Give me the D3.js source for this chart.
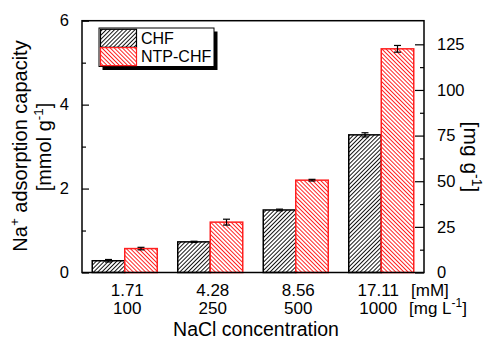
<!DOCTYPE html>
<html><head><meta charset="utf-8">
<script src="https://cdn.jsdelivr.net/npm/d3@7"></script>
<style>body{margin:0;background:#fff}svg{font-family:"Liberation Sans",Arial,sans-serif}</style>
</head><body><svg id="c" width="484" height="338"></svg>
<script>
const categories = ["1.71","4.28","8.56","17.11"];
const categories2 = ["100","250","500","1000"];
const chf = [0.28, 0.73, 1.49, 3.28];
const chfErr = [0.03, 0.015, 0.02, 0.05];
const ntp = [0.57, 1.20, 2.20, 5.33];
const ntpErr = [0.03, 0.07, 0.02, 0.08];
const leftTicks = [0,2,4,6];
const rightTicks = [0,25,50,75,100,125];
const seriesNames = ["CHF","NTP-CHF"];

const svg = d3.select("#c");
const L=82, R=424, T=20.7, B=272.5;
const x = d3.scaleBand().domain(categories).range([L,R]).padding(0);
const y = d3.scaleLinear().domain([0,6]).range([B,T]);
const y2 = d3.scaleLinear().domain([0,6*22.99]).range([B,T]);

const defs = svg.append("defs");
function pat(id, color, dir, sw){
  const w = 2.9;
  const p = defs.append("pattern").attr("id",id).attr("patternUnits","userSpaceOnUse")
    .attr("width",w).attr("height",w).attr("patternTransform","rotate("+(dir>0?45:-45)+")");
  p.append("rect").attr("width",w).attr("height",w).attr("fill","#fff");
  p.append("line").attr("x1",0).attr("y1",0).attr("x2",0).attr("y2",w).attr("stroke",color).attr("stroke-width",sw);
}
pat("hb","#000",1,1.8);
pat("hr","#ff0000",-1,1.7);

const bw = 32.5;
const series = [{v:chf,e:chfErr,fill:"url(#hb)",stroke:"#000",off:-bw},{v:ntp,e:ntpErr,fill:"url(#hr)",stroke:"#ff2020",off:0}];
series.forEach(s=>{
  const c = x.bandwidth()/2;
  svg.append("g").selectAll("rect").data(s.v).join("rect")
    .attr("x",(d,i)=>x(categories[i])+c+s.off)
    .attr("y",d=>y(d)).attr("width",bw).attr("height",d=>B-y(d))
    .attr("fill",s.fill).attr("stroke",s.stroke).attr("stroke-width",1.5);
  const g = svg.append("g").attr("stroke","#000").attr("stroke-width",1.2);
  s.v.forEach((d,i)=>{
    const cx = x(categories[i])+c+s.off+bw/2;
    g.append("line").attr("x1",cx).attr("x2",cx).attr("y1",y(d+s.e[i])).attr("y2",y(d-s.e[i]));
    g.append("line").attr("x1",cx-3.5).attr("x2",cx+3.5).attr("y1",y(d+s.e[i])).attr("y2",y(d+s.e[i]));
    g.append("line").attr("x1",cx-3.5).attr("x2",cx+3.5).attr("y1",y(d-s.e[i])).attr("y2",y(d-s.e[i]));
  });
});

// frame
svg.append("rect").attr("x",L).attr("y",T).attr("width",R-L).attr("height",B-T)
  .attr("fill","none").attr("stroke","#000").attr("stroke-width",1.5);

const FF = "Liberation Sans, Arial, sans-serif";
// left axis
const la = svg.append("g").attr("transform",`translate(${L},0)`)
  .call(d3.axisLeft(y).tickValues(leftTicks).tickFormat(d3.format("d")).tickSizeInner(-7).tickSizeOuter(0).tickPadding(13));
la.select(".domain").remove();
la.selectAll("text").attr("font-size",16.5).attr("fill","#000").attr("font-family",FF);
la.selectAll("line").attr("stroke-width",1.2);
svg.append("g").attr("transform",`translate(${L},0)`)
  .call(d3.axisLeft(y).tickValues([1,3,5]).tickSize(-4).tickFormat(""))
  .call(g=>g.select(".domain").remove()).selectAll("line").attr("stroke-width",1.2);

// right axis
const ra = svg.append("g").attr("transform",`translate(${R},0)`)
  .call(d3.axisRight(y2).tickValues(rightTicks).tickFormat(d3.format("d")).tickSizeInner(-9).tickSizeOuter(0).tickPadding(13));
ra.select(".domain").remove();
ra.selectAll("text").attr("font-size",16.5).attr("fill","#000").attr("font-family",FF);
ra.selectAll("line").attr("stroke-width",1.2);
svg.append("g").attr("transform",`translate(${R},0)`)
  .call(d3.axisRight(y2).tickValues([12.5,37.5,62.5,87.5,112.5]).tickSize(-4).tickFormat(""))
  .call(g=>g.select(".domain").remove()).selectAll("line").attr("stroke-width",1.2);

// x labels
const xl = svg.append("g").attr("font-size",17).attr("text-anchor","middle");
categories.forEach((c,i)=>{
  const cx = x(c)+x.bandwidth()/2 + (i<3?2.5:-3);
  xl.append("text").attr("x",cx).attr("y",296).text(c);
  xl.append("text").attr("x",cx).attr("y",313.5).text(categories2[i]);
});
const ul = svg.append("g").attr("font-size",17);
ul.append("text").attr("x",411).attr("y",296).text("[mM]");
const t2 = ul.append("text").attr("x",409).attr("y",313.5);
t2.append("tspan").text("[mg L");
t2.append("tspan").attr("dy",-7).attr("font-size",12).text("-1");
t2.append("tspan").attr("dy",7).text("]");
svg.append("text").attr("x",256).attr("y",335.5).attr("font-size",19.5).attr("text-anchor","middle").text("NaCl concentration");

// left title
const lt = svg.append("text").attr("transform","translate(27,146) rotate(-90)").attr("text-anchor","middle").attr("font-size",20);
lt.append("tspan").text("Na");
lt.append("tspan").attr("dy",-8).attr("font-size",13.5).text("+");
lt.append("tspan").attr("dy",8).text(" adsorption capacity");
const lt2 = svg.append("text").attr("transform","translate(51,147) rotate(-90)").attr("text-anchor","middle").attr("font-size",20);
lt2.append("tspan").text("[mmol g");
lt2.append("tspan").attr("dy",-8).attr("font-size",13.5).text("-1");
lt2.append("tspan").attr("dy",8).text("]");

// right title
const rt = svg.append("text").attr("transform","translate(464,157) rotate(90)").attr("text-anchor","middle").attr("font-size",21);
rt.append("tspan").text("[mg g");
rt.append("tspan").attr("dy",-8).attr("font-size",14).text("-1");
rt.append("tspan").attr("dy",8).text("]");

// legend
const lg = svg.append("g");
lg.append("rect").attr("x",102.5).attr("y",31.5).attr("width",115).attr("height",38.5).attr("fill","#000");
lg.append("rect").attr("x",99).attr("y",28).attr("width",115).attr("height",38.5).attr("fill","#fff").attr("stroke","#000").attr("stroke-width",1);
[["url(#hb)","#000"],["url(#hr)","#ff2020"]].forEach((s,i)=>{
  lg.append("rect").attr("x",100.5).attr("y",29.3+i*18.3).attr("width",36).attr("height",18)
    .attr("fill",s[0]).attr("stroke",s[1]).attr("stroke-width",1.2);
  lg.append("text").attr("x",141).attr("y",43.5+i*18.3).attr("font-size",16).text(seriesNames[i]);
});
</script></body></html>
